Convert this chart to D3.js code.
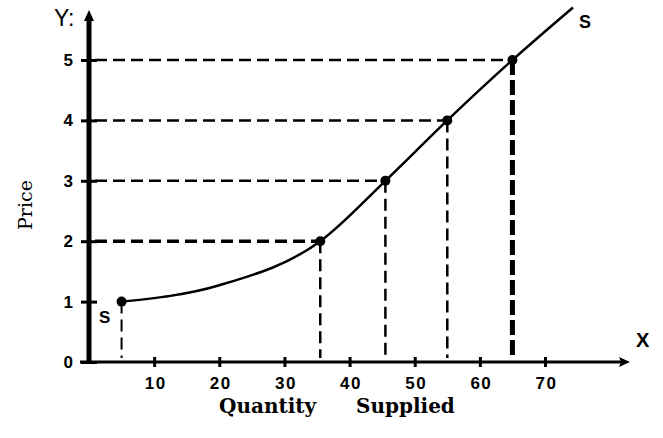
<!DOCTYPE html>
<html><head><meta charset="utf-8">
<script src="https://cdn.jsdelivr.net/npm/d3@7/dist/d3.min.js"></script>
<style>body{margin:0;background:#fff}svg{display:block}</style>
</head><body><svg id="c" width="663" height="438"></svg>
<script>
const quantity = [5, 35.5, 45.5, 55, 65];
const price = [1, 2, 3, 4, 5];
const curveQ = [5, 20, 35.5, 45.5, 55, 65, 74.3];
const curveP = [1, 1.27, 2, 3, 4, 5, 5.87];
const xTicks = [10, 20, 30, 40, 50, 60, 70];
const yTicks = [0, 1, 2, 3, 4, 5];

const svg = d3.select("#c");
const x = d3.scaleLinear().domain([0, 70]).range([89, 545]);
const y = d3.scaleLinear().domain([0, 5]).range([362, 60]);

// dashed guides
const hw = [2.5, 3.5, 2.5, 2.5, 2.5];
const vw = [2, 2.5, 2.5, 2.5, 5];
quantity.forEach((q, i) => {
  if (price[i] > 1) {
    svg.append("line").attr("x1", x(0) + 6).attr("x2", x(q)).attr("y1", y(price[i])).attr("y2", y(price[i]))
      .attr("stroke", "#000").attr("stroke-width", hw[i]).attr("stroke-dasharray", "12,6");
  }
  svg.append("line").attr("x1", x(q)).attr("x2", x(q)).attr("y1", y(price[i])).attr("y2", y(0) - 4)
    .attr("stroke", "#000").attr("stroke-width", vw[i]).attr("stroke-dasharray", i === 4 ? "15,5" : "12,6");
});

// axes
const tickFont = "Liberation Sans, Arial, sans-serif";
const ax = svg.append("g").attr("transform", `translate(0,${y(0)})`)
  .call(d3.axisBottom(x).tickValues(xTicks).tickSize(5).tickPadding(10).tickFormat(d3.format("d")));
ax.select(".domain").remove();
ax.selectAll(".tick line").attr("y1", -5).attr("y2", 5).attr("stroke-width", 3);
ax.selectAll(".tick text").attr("font-family", tickFont).attr("letter-spacing", "1.5").attr("dx", "1")
  .attr("font-weight", "bold").attr("font-size", 17).attr("fill", "#000");

const ay = svg.append("g").attr("transform", `translate(${x(0)},0)`)
  .call(d3.axisLeft(y).tickValues(yTicks).tickSize(8).tickPadding(8).tickFormat(d3.format("d")));
ay.select(".domain").remove();
ay.selectAll(".tick line").attr("x1", -8).attr("x2", 8).attr("stroke-width", 3);
ay.selectAll(".tick text").attr("font-family", tickFont)
  .attr("font-weight", "bold").attr("font-size", 17).attr("fill", "#000");

// axis lines with arrows
svg.append("line").attr("x1", 80).attr("x2", 622).attr("y1", y(0)).attr("y2", y(0))
  .attr("stroke", "#000").attr("stroke-width", 3);
svg.append("path").attr("d", `M630,${y(0)} L619,${y(0) - 5} L621,${y(0)} L619,${y(0) + 5} Z`).attr("fill", "#000");
svg.append("line").attr("x1", x(0)).attr("x2", x(0)).attr("y1", y(0) + 1).attr("y2", 18)
  .attr("stroke", "#000").attr("stroke-width", 5);
svg.append("path").attr("d", `M${x(0)},10 L${x(0) - 5},21 L${x(0) + 5},21 Z`).attr("fill", "#000");

// supply curve
const line = d3.line().x(d => x(d[0])).y(d => y(d[1])).curve(d3.curveMonotoneX);
svg.append("path").datum(curveQ.map((q, i) => [q, curveP[i]])).attr("d", line)
  .attr("fill", "none").attr("stroke", "#000").attr("stroke-width", 2.5);

// points
svg.selectAll(".pt").data(quantity).enter().append("circle")
  .attr("cx", (d) => x(d)).attr("cy", (d, i) => y(price[i])).attr("r", 5).attr("fill", "#000");

// labels
svg.append("text").attr("x", 54).attr("y", 26).attr("font-family", tickFont).attr("fill", "#000")
  .attr("font-size", 23).text("Y:");
svg.append("text").attr("x", 636).attr("y", 347).attr("font-family", tickFont).attr("fill", "#000")
  .attr("font-weight", "bold").attr("font-size", 20).text("X");
svg.append("text").attr("x", 579).attr("y", 28).attr("font-family", tickFont).attr("fill", "#000")
  .attr("font-weight", "bold").attr("font-size", 18).text("S");
svg.append("text").attr("x", 99).attr("y", 323).attr("font-family", tickFont).attr("fill", "#000")
  .attr("font-weight", "bold").attr("font-size", 17).text("S");

svg.append("text").attr("transform", "translate(32,205) rotate(-90)").attr("text-anchor", "middle")
  .attr("fill", "#000").attr("font-family", "DejaVu Serif, serif").attr("font-size", 19).text("Price");
svg.append("text").attr("x", 219).attr("y", 413).attr("font-family", "DejaVu Serif, serif").attr("fill", "#000")
  .attr("font-weight", "bold").attr("font-size", 20).text("Quantity");
svg.append("text").attr("x", 356).attr("y", 413).attr("font-family", "DejaVu Serif, serif").attr("fill", "#000")
  .attr("font-weight", "bold").attr("font-size", 20).text("Supplied");
</script></body></html>
